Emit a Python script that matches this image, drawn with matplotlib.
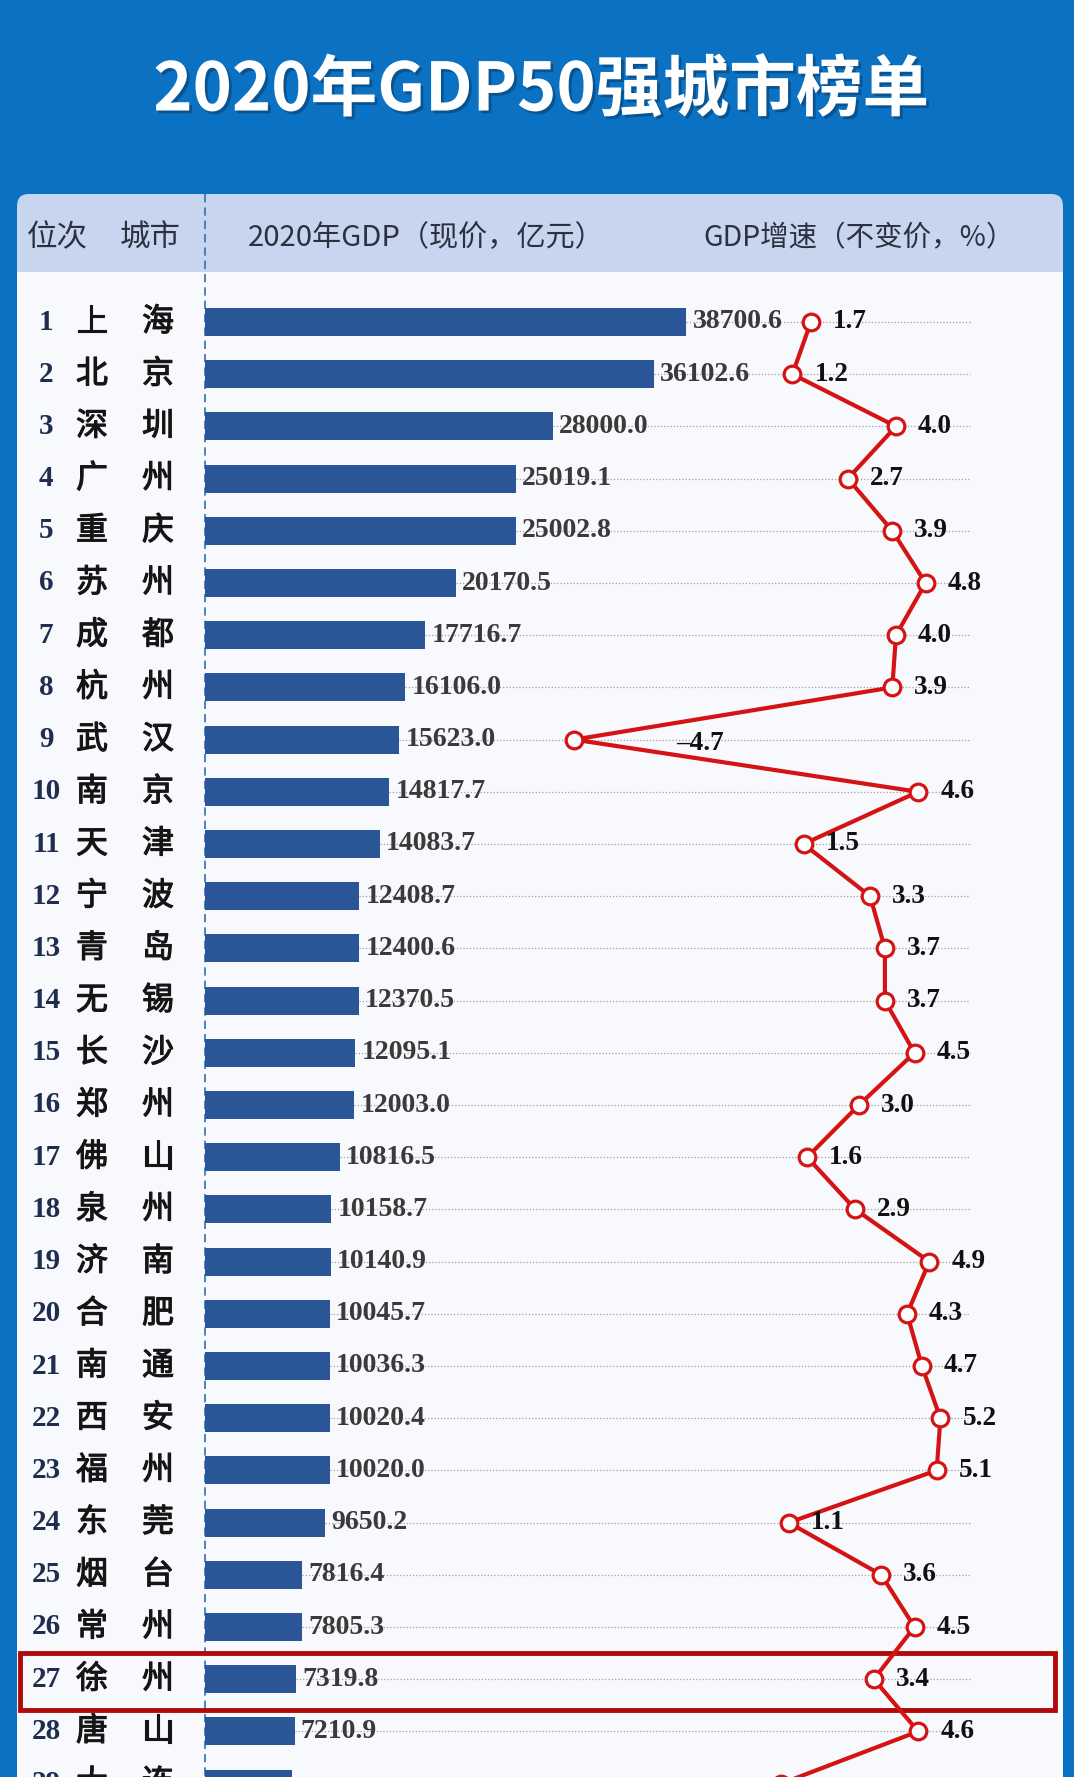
import matplotlib
matplotlib.use('Agg')
import matplotlib.pyplot as plt
import matplotlib.transforms as mtransforms
import matplotlib.patheffects as pe
from matplotlib.patches import FancyBboxPatch, Rectangle

plt.rcParams['font.family'] = ['Noto Sans CJK SC', 'DejaVu Sans']

# data
ranks = list(range(1, 30))
cities = ['上海', '北京', '深圳', '广州', '重庆', '苏州', '成都', '杭州', '武汉', '南京',
          '天津', '宁波', '青岛', '无锡', '长沙', '郑州', '佛山', '泉州', '济南', '合肥',
          '南通', '西安', '福州', '东莞', '烟台', '常州', '徐州', '唐山', '大连']
gdp = [38700.6, 36102.6, 28000.0, 25019.1, 25002.8, 20170.5, 17716.7, 16106.0, 15623.0, 14817.7,
       14083.7, 12408.7, 12400.6, 12370.5, 12095.1, 12003.0, 10816.5, 10158.7, 10140.9, 10045.7,
       10036.3, 10020.4, 10020.0, 9650.2, 7816.4, 7805.3, 7319.8, 7210.9, 7030.4]
growth = [1.7, 1.2, 4.0, 2.7, 3.9, 4.8, 4.0, 3.9, -4.7, 4.6,
          1.5, 3.3, 3.7, 3.7, 4.5, 3.0, 1.6, 2.9, 4.9, 4.3,
          4.7, 5.2, 5.1, 1.1, 3.6, 4.5, 3.4, 4.6, 0.9]
highlight = '徐州'

title = '2020年GDP50强城市榜单'
header_rank = '位次'
header_city = '城市'
header_gdp = '2020年GDP（现价，亿元）'
header_growth = 'GDP增速（不变价，%）'

# layout (pixels)
W, H = 1074, 1777
ROW1_Y, ROW_STEP = 322, 52.2
BAR_X0, PX_PER_GDP = 205, 0.01244
G_REF, G_REF_PX, PX_PER_PCT = 4.0, 896, 37.0
DOT_END_PX = 970

BLUE_BG = '#0b72c3'
HEAD_BG = '#c7d6ee'
PANEL_BG = '#f8f9fc'
BAR_C = '#2a5597'
RED = '#d41414'

fig = plt.figure(figsize=(W / 100, H / 100), dpi=100)
fig.patch.set_facecolor(BLUE_BG)

bg = fig.add_axes([0, 0, 1, 1])
bg.set_xlim(0, W)
bg.set_ylim(H, 0)
bg.axis('off')

# panel + header band
bg.add_patch(FancyBboxPatch((17, 194), 1046, 1700, boxstyle='round,pad=0,rounding_size=12',
                            fc=HEAD_BG, ec='none', zorder=0))
bg.add_patch(Rectangle((17, 272), 1046, 1600, fc=PANEL_BG, ec='none', zorder=0.5))
bg.plot([BAR_X0, BAR_X0], [194, H], color='#2f6fb8', lw=1.2, ls=(0, (5, 3)), zorder=1)

bg.text(541, 91, title, ha='center', va='center', fontsize=48, fontweight='bold', color='white',
        path_effects=[pe.withSimplePatchShadow(offset=(2, -2), shadow_rgbFace='#08365e', alpha=0.5)])
hdr = dict(va='center', ha='left', color='#2b3140')
bg.text(27, 238, header_rank, fontsize=22, **hdr)
bg.text(120, 238, header_city, fontsize=22, **hdr)
bg.text(248, 238, header_gdp, fontsize=21, **hdr)
bg.text(703, 238, header_growth, fontsize=20.5, **hdr)

# bars axes: x in GDP units, y in rank rows
axb = fig.add_axes([0, 0, 1, 1])
axb.patch.set_alpha(0)
axb.axis('off')
axb.set_xlim(-BAR_X0 / PX_PER_GDP, (W - BAR_X0) / PX_PER_GDP)
axb.set_ylim(1 + (H - ROW1_Y) / ROW_STEP, 1 + (0 - ROW1_Y) / ROW_STEP)

row_tr = mtransforms.blended_transform_factory(bg.transData, axb.transData)

axb.hlines(ranks, gdp, (DOT_END_PX - BAR_X0) / PX_PER_GDP, colors='#a0a0a0',
           linestyles=(0, (1, 1.6)), linewidth=0.9, zorder=1)
axb.barh(ranks, gdp, height=0.54, color=BAR_C, zorder=3)

city_fx = [pe.withStroke(linewidth=0.8, foreground='#151515')]
for r, c, v in zip(ranks, cities, gdp):
    axb.text(46, r, str(r), transform=row_tr, ha='center', va='center', fontsize=21,
             fontfamily='Liberation Serif', fontweight='bold', color='#1f2d4e')
    axb.text(92, r, c[0], transform=row_tr, ha='center', va='center', fontsize=23,
             color='#151515', path_effects=city_fx)
    axb.text(158, r, c[1], transform=row_tr, ha='center', va='center', fontsize=23,
             color='#151515', path_effects=city_fx)
    axb.annotate(f'{v:.1f}', (v, r), xytext=(6, 0), textcoords='offset pixels', ha='left',
                 va='center', fontsize=20, fontfamily='Liberation Serif', fontweight='bold',
                 color='#3a3a3a', zorder=4)

# growth axes: x in percent
axg = axb.twiny()
axg.axis('off')
axg.set_xlim(G_REF - G_REF_PX / PX_PER_PCT, G_REF + (W - G_REF_PX) / PX_PER_PCT)
axg.plot(growth, ranks, color=RED, lw=3, marker='o', ms=12, mfc='white', mec=RED, mew=2.3,
         zorder=5, clip_on=False)
for r, g in zip(ranks, growth):
    dx, dy = (102, -4) if g < 0 else (22, 0)
    axg.annotate(f'{g:.1f}'.replace('-', '–'), (g, r), xytext=(dx, dy), textcoords='offset pixels',
                 ha='left', va='center', fontsize=19.5, fontfamily='Liberation Serif',
                 fontweight='bold', color='#111111', zorder=6)

# highlight box
hr = ranks[cities.index(highlight)]
axb.add_patch(Rectangle((20, hr - 0.5), 1035, 1.09, transform=row_tr, fill=False,
                        ec='#b00a0a', lw=3.5, zorder=7, clip_on=False))

fig.savefig('out.png', dpi=100, facecolor=fig.get_facecolor())
